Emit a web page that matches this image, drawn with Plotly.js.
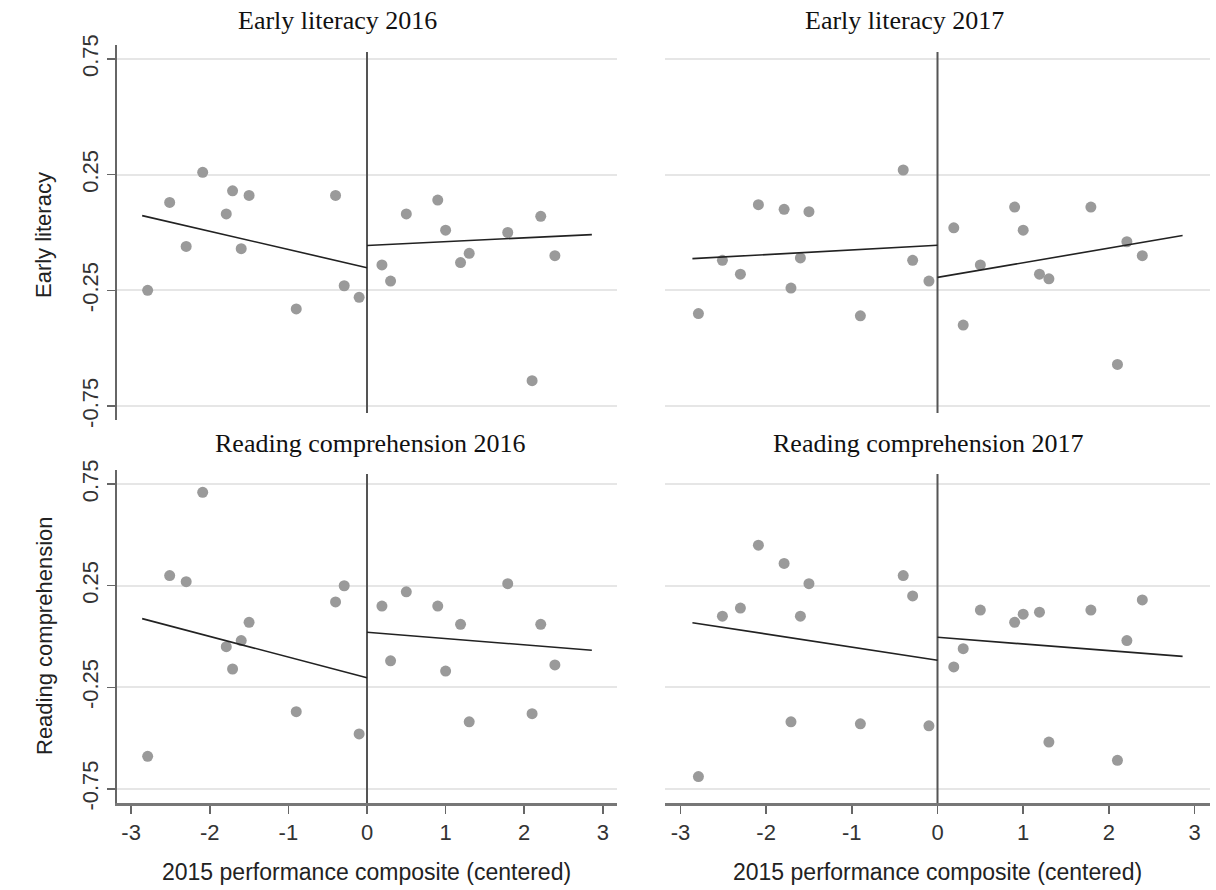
<!DOCTYPE html>
<html>
<head>
<meta charset="utf-8">
<script src="https://cdn.plot.ly/plotly-3.0.1.min.js"></script>
<style>
  html, body { margin: 0; padding: 0; background: #ffffff; }
  #chart { width: 1216px; height: 890px; }
</style>
</head>
<body>
<div id="chart"></div>
<script>
// ---- Data ----
const composite2015 = [-2.79, -2.51, -2.30, -2.09, -1.79, -1.71, -1.60, -1.50, -0.90, -0.40, -0.29, -0.10,
                        0.19, 0.30, 0.50, 0.90, 1.00, 1.19, 1.30, 1.79, 2.10, 2.21, 2.39];

const earlyLiteracy2016 = [-0.25, 0.13, -0.06, 0.26, 0.08, 0.18, -0.07, 0.16, -0.33, 0.16, -0.23, -0.28,
                           -0.14, -0.21, 0.08, 0.14, 0.01, -0.13, -0.09, 0.00, -0.64, 0.07, -0.10];
const earlyLiteracy2017 = [-0.35, -0.12, -0.18, 0.12, 0.10, -0.24, -0.11, 0.09, -0.36, 0.27, -0.12, -0.21,
                           0.02, -0.40, -0.14, 0.11, 0.01, -0.18, -0.20, 0.11, -0.57, -0.04, -0.10];
const readingComp2016 = [-0.59, 0.30, 0.27, 0.71, -0.05, -0.16, -0.02, 0.07, -0.37, 0.17, 0.25, -0.48,
                         0.15, -0.12, 0.22, 0.15, -0.17, 0.06, -0.42, 0.26, -0.38, 0.06, -0.14];
const readingComp2017 = [-0.69, 0.10, 0.14, 0.45, 0.36, -0.42, 0.10, 0.26, -0.43, 0.30, 0.20, -0.44,
                         -0.15, -0.06, 0.13, 0.07, 0.11, 0.12, -0.52, 0.13, -0.61, -0.02, 0.18];

// fitted lines: endpoints on each side of the cutoff
const fitXLeft  = [-2.86, 0];
const fitXRight = [0, 2.86];
const fitEL2016Left = [0.073, -0.152],  fitEL2016Right = [-0.056, -0.009];
const fitEL2017Left = [-0.113, -0.055], fitEL2017Right = [-0.194, -0.013];
const fitRC2016Left = [0.088, -0.203],  fitRC2016Right = [0.021, -0.068];
const fitRC2017Left = [0.068, -0.117],  fitRC2017Right = [-0.004, -0.098];

// cutoff line
const cutoffX = [0, 0];
const cutoffTopY = [0.78, -0.78];
const cutoffBottomY = [0.80, -0.82];

const panelTitles = ["Early literacy 2016", "Early literacy 2017", "Reading comprehension 2016", "Reading comprehension 2017"];
const yTitles = ["Early literacy", "Reading comprehension"];
const xTitle = "2015 performance composite (centered)";
const xTickVals = [-3, -2, -1, 0, 1, 2, 3];
const xTickText = ["-3", "-2", "-1", "0", "1", "2", "3"];
const yTickVals = [-0.75, -0.25, 0.25, 0.75];
const yTickText = ["-0.75", "-0.25", "0.25", "0.75"];

// ---- Traces ----
const panels = [
  {xa: "x",  ya: "y",  y: earlyLiteracy2016, fl: fitEL2016Left, fr: fitEL2016Right, cut: cutoffTopY},
  {xa: "x2", ya: "y2", y: earlyLiteracy2017, fl: fitEL2017Left, fr: fitEL2017Right, cut: cutoffTopY},
  {xa: "x3", ya: "y3", y: readingComp2016,   fl: fitRC2016Left, fr: fitRC2016Right, cut: cutoffBottomY},
  {xa: "x4", ya: "y4", y: readingComp2017,   fl: fitRC2017Left, fr: fitRC2017Right, cut: cutoffBottomY}
];

const traces = [];
panels.forEach(p => {
  traces.push({type: "scatter", mode: "lines", x: cutoffX, y: p.cut, xaxis: p.xa, yaxis: p.ya,
               line: {color: "#555555", width: 2}, hoverinfo: "skip", showlegend: false});
  traces.push({type: "scatter", mode: "markers", x: composite2015, y: p.y, xaxis: p.xa, yaxis: p.ya,
               marker: {color: "#9a9a9a", size: 11}, showlegend: false});
  traces.push({type: "scatter", mode: "lines", x: fitXLeft, y: p.fl, xaxis: p.xa, yaxis: p.ya,
               line: {color: "#222222", width: 1.6}, showlegend: false});
  traces.push({type: "scatter", mode: "lines", x: fitXRight, y: p.fr, xaxis: p.xa, yaxis: p.ya,
               line: {color: "#222222", width: 1.6}, showlegend: false});
});

// ---- Layout ----
const W = 1216, H = 890;
const sans = "Liberation Sans, Arial, sans-serif";
const serif = "Liberation Serif, Times New Roman, serif";
const xLeft = [117 / W, 617 / W], xRight = [665 / W, 1210 / W];
const yTop = [1 - 420 / H, 1 - 45 / H], yBot = [1 - 803 / H, 1 - 470 / H];
const xRange = [-3.18, 3.18];

function xAxisTop(dom) {
  return {domain: dom, range: xRange, visible: false, fixedrange: true};
}
function xAxisBottom(dom) {
  return {domain: dom, range: xRange, showgrid: false, zeroline: false,
          showline: true, linecolor: "#777777", linewidth: 2.5,
          ticks: "outside", ticklen: 8, tickwidth: 1.5, tickcolor: "#666666",
          tickvals: xTickVals, ticktext: xTickText,
          tickfont: {family: sans, size: 22, color: "#333333"}};
}
function yAxis(dom, range, labelled, anchor) {
  const a = {domain: dom, range: range, anchor: anchor, zeroline: false,
             showgrid: true, gridcolor: "#e6e6e6", gridwidth: 2,
             tickvals: yTickVals, ticktext: yTickText};
  if (labelled) {
    Object.assign(a, {showline: true, linecolor: "#666666", linewidth: 2,
      ticks: "outside", ticklen: 8, tickwidth: 1.5, tickcolor: "#666666",
      tickangle: -90, tickfont: {family: sans, size: 22, color: "#333333"}});
  } else {
    Object.assign(a, {showline: false, ticks: "", showticklabels: false});
  }
  return a;
}

const ann = [];
function addText(text, px, py, font, angle) {
  ann.push({text: text, x: px / W, y: 1 - py / H, xref: "paper", yref: "paper",
            xanchor: "center", yanchor: "middle", showarrow: false, font: font, textangle: angle || 0});
}
const titleFont = {family: serif, size: 26, color: "#111111"};
const axFont = {family: sans, size: 22, color: "#222222"};
const xtFont = {family: sans, size: 23, color: "#222222"};
addText(panelTitles[0], 337, 20, titleFont);
addText(panelTitles[1], 905, 20, titleFont);
addText(panelTitles[2], 370, 443, titleFont);
addText(panelTitles[3], 928, 443, titleFont);
addText(yTitles[0], 44, 235, axFont, -90);
addText(yTitles[1], 44, 636, axFont, -90);
addText(xTitle, 366, 872, xtFont);
addText(xTitle, 937, 872, xtFont);

const layout = {
  width: W, height: H,
  margin: {l: 0, r: 0, t: 0, b: 0},
  paper_bgcolor: "#ffffff", plot_bgcolor: "#ffffff",
  showlegend: false,
  xaxis: xAxisTop(xLeft),
  xaxis2: xAxisTop(xRight),
  xaxis3: Object.assign(xAxisBottom(xLeft), {anchor: "y3"}),
  xaxis4: Object.assign(xAxisBottom(xRight), {anchor: "y4"}),
  yaxis: yAxis(yTop, [-0.81, 0.81], true, "x"),
  yaxis2: yAxis(yTop, [-0.81, 0.81], false, "x2"),
  yaxis3: yAxis(yBot, [-0.82, 0.82], true, "x3"),
  yaxis4: yAxis(yBot, [-0.82, 0.82], false, "x4"),
  annotations: ann
};
layout.xaxis.anchor = "y";
layout.xaxis2.anchor = "y2";

Plotly.newPlot("chart", traces, layout, {displayModeBar: false, staticPlot: true});
</script>
</body>
</html>
